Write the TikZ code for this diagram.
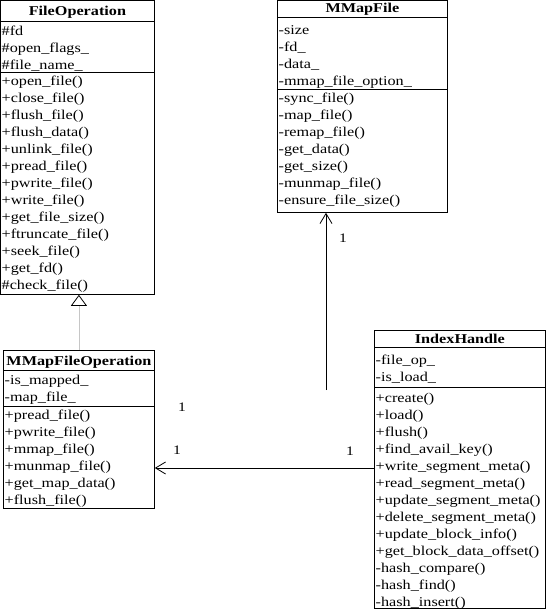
\documentclass[tikz,border=0pt]{standalone}
\usepackage{fontspec}
\setmainfont{Liberation Serif}[FakeStretch = 1.2]
\usetikzlibrary{arrows.meta}

\tikzset{
  box/.style = {draw, line width = 0.8pt, anchor = north west, inner sep = 0pt},
  title/.style = {anchor = base, inner sep = 0pt, font = \fontsize{13.5}{17}\selectfont\bfseries},
  members/.style = {anchor = north west, align = left, inner sep = 0pt, font = \fontsize{13.5}{17}\selectfont},
  mult/.style = {inner sep = 0pt, font = \fontsize{13}{17}\selectfont},
  assoc/.style = {line width = 0.8pt, -{Straight Barb[length = 10pt, width = 12pt]}}
}

\begin{document}
\begin{tikzpicture}[x = 1pt, y = -1pt]
\useasboundingbox (0,0) rectangle (547,609);

% FileOperation
\node[box, minimum width = 154pt, minimum height = 294pt] (fo) at (0,0) {};
\draw[line width = 0.8pt] (fo.west |- 0,21)--(fo.east |- 0,21);
\draw[line width = 0.8pt] (fo.west |- 0,72)--(fo.east |- 0,72);
\node[title] (fo-t) at (fo.north |- 0,16) {FileOperation};
\node[members] (fo-a) at (1.5,23) {\strut\#fd\\ \#open\_flags\_\\ \#file\_name\_};
\node[members] (fo-m) at (1.5,73) {\strut+open\_file()\\ +close\_file()\\ +flush\_file()\\ +flush\_data()\\ +unlink\_file()\\ +pread\_file()\\ +pwrite\_file()\\ +write\_file()\\ +get\_file\_size()\\ +ftruncate\_file()\\ +seek\_file()\\ +get\_fd()\\ \#check\_file()};

% MMapFile
\node[box, minimum width = 170pt, minimum height = 212pt] (mf) at (277,0) {};
\draw[line width = 0.8pt] (mf.west |- 0,17)--(mf.east |- 0,17);
\draw[line width = 0.8pt] (mf.west |- 0,89)--(mf.east |- 0,89);
\node[title] (mf-t) at (mf.north |- 0,13) {MMapFile};
\node[members] (mf-a) at (278.5,22) {\strut-size\\ -fd\_\\ -data\_\\ -mmap\_file\_option\_};
\node[members] (mf-m) at (278.5,90) {\strut-sync\_file()\\ -map\_file()\\ -remap\_file()\\ -get\_data()\\ -get\_size()\\ -munmap\_file()\\ -ensure\_file\_size()};

% MMapFileOperation
\node[box, minimum width = 151pt, minimum height = 158pt] (mfo) at (3,350) {};
\draw[line width = 0.8pt] (mfo.west |- 0,370)--(mfo.east |- 0,370);
\draw[line width = 0.8pt] (mfo.west |- 0,406)--(mfo.east |- 0,406);
\node[title] (mfo-t) at (mfo.north |- 0,365) {MMapFileOperation};
\node[members] (mfo-a) at (4.5,372) {\strut-is\_mapped\_\\ -map\_file\_};
\node[members] (mfo-m) at (4.5,407) {\strut+pread\_file()\\ +pwrite\_file()\\ +mmap\_file()\\ +munmap\_file()\\ +get\_map\_data()\\ +flush\_file()};

% IndexHandle
\node[box, minimum width = 171pt, minimum height = 278pt] (ih) at (374,330) {};
\draw[line width = 0.8pt] (ih.west |- 0,347)--(ih.east |- 0,347);
\draw[line width = 0.8pt] (ih.west |- 0,387)--(ih.east |- 0,387);
\node[title] (ih-t) at (ih.north |- 0,343) {IndexHandle};
\node[members] (ih-a) at (375.5,352) {\strut-file\_op\_\\ -is\_load\_};
\node[members] (ih-m) at (375.5,390) {\strut+create()\\ +load()\\ +flush()\\ +find\_avail\_key()\\ +write\_segment\_meta()\\ +read\_segment\_meta()\\ +update\_segment\_meta()\\ +delete\_segment\_meta()\\ +update\_block\_info()\\ +get\_block\_data\_offset()\\ -hash\_compare()\\ -hash\_find()\\ -hash\_insert()};

% connectors
\draw[gray!45, line width = 0.8pt, -{Triangle[open, length = 11pt, width = 16pt, color = black, fill = white]}] (mfo.north)--(mfo.north |- fo.south);
\coordinate (ih-end) at (326,390);
\draw[assoc] (ih-end)--(ih-end |- mf.south);
\coordinate (ih-port) at (ih.west |- 0,468);
\draw[assoc] (ih-port)--(ih-port -| mfo.east);

\node[mult] (m1) at (343,238) {1};
\node[mult] (m2) at (182,407) {1};
\node[mult] (m3) at (177,450) {1};
\node[mult] (m4) at (350,451) {1};
\end{tikzpicture}
\end{document}
